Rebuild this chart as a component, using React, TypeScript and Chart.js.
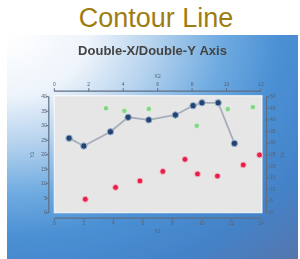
import React, { useEffect, useRef } from "react";
import { Chart, registerables } from "chart.js";

Chart.register(...registerables);

const pageTitle = "Contour Line";
const chartTitle = "Double-X/Double-Y Axis";

const bottomTicks = [0, 2, 4, 6, 8, 10, 12, 14];
const topTicks = [0, 2, 4, 6, 8, 10, 12];
const leftTicks = [0, 5, 10, 15, 20, 25, 30, 35, 40];
const rightTicks = [0, 5, 10, 15, 20, 25, 30, 35, 40, 45, 50];

const blueX = [1.0, 2.0, 3.8, 5.0, 6.4, 8.2, 9.4, 10.0, 11.1, 12.2];
const blueY = [25.7, 23.0, 27.9, 32.9, 32.0, 33.7, 36.9, 37.9, 37.9, 23.9];

const greenX = [1.0, 3.5, 4.75, 6.4, 8.2, 9.65, 11.75, 13.45];
const greenY = [25.7, 36.0, 35.1, 35.8, 33.3, 30.0, 35.7, 36.4];

const redX = [2.1, 4.15, 5.8, 7.35, 8.85, 9.7, 11.05, 12.8, 13.9];
const redY = [5.8, 10.9, 13.7, 17.8, 23.0, 16.7, 15.8, 20.6, 24.9];

const toPoints = (xs: number[], ys: number[]) => xs.map((x, i) => ({ x, y: ys[i] }));

const tickFont = { family: "'Liberation Sans', Arial, sans-serif", size: 5 };
const tickColor = "#566274";

export default function App() {
  const ref = useRef<HTMLCanvasElement>(null);

  useEffect(() => {
    const canvas = ref.current;
    if (!canvas) return;

    const bgPlugin = {
      id: "bgPanel",
      beforeDraw(chart: any) {
        const c = chart.ctx as CanvasRenderingContext2D;
        const { width, height, chartArea: a } = chart;
        c.save();
        c.scale(1.35, 1);
        const g = c.createRadialGradient(0, 0, 0, 0, 0, 320);
        g.addColorStop(0, "#ffffff");
        g.addColorStop(0.19, "#eef4fb");
        g.addColorStop(0.34, "#b5d2ee");
        g.addColorStop(0.5, "#6eaae0");
        g.addColorStop(0.63, "#4b90d4");
        g.addColorStop(0.8, "#4482c8");
        g.addColorStop(1, "#5874a8");
        c.fillStyle = g;
        c.fillRect(0, 0, width / 1.35 + 1, height);
        c.restore();

        c.save();
        c.fillStyle = "#e6e6e6";
        c.fillRect(a.left, a.top - 1, a.right - a.left + 1, a.bottom - a.top + 1);
        c.strokeStyle = "rgba(255,255,255,0.75)";
        c.lineWidth = 1.2;
        c.strokeRect(a.left, a.top - 1, a.right - a.left + 1, a.bottom - a.top + 1);

        const off = 5.5;
        c.strokeStyle = "#5e6e84";
        c.lineWidth = 1.2;
        c.beginPath();
        c.moveTo(a.left - off, a.top);
        c.lineTo(a.left - off, a.bottom);
        c.moveTo(a.right + off, a.top);
        c.lineTo(a.right + off, a.bottom);
        c.moveTo(a.left, a.top - off);
        c.lineTo(a.right, a.top - off);
        c.moveTo(a.left, a.bottom + off);
        c.lineTo(a.right, a.bottom + off);
        c.stroke();

        c.lineWidth = 1;
        c.beginPath();
        const sx = chart.scales.x, sx2 = chart.scales.x2, sy = chart.scales.y, sy2 = chart.scales.y2;
        sx.ticks.forEach((t: any) => {
          const p = sx.getPixelForValue(t.value);
          c.moveTo(p, a.bottom + off);
          c.lineTo(p, a.bottom + off + 3);
        });
        sx2.ticks.forEach((t: any) => {
          const p = sx2.getPixelForValue(t.value);
          c.moveTo(p, a.top - off);
          c.lineTo(p, a.top - off - 3);
        });
        sy.ticks.forEach((t: any) => {
          const p = sy.getPixelForValue(t.value);
          c.moveTo(a.left - off, p);
          c.lineTo(a.left - off - 3, p);
        });
        sy2.ticks.forEach((t: any) => {
          const p = sy2.getPixelForValue(t.value);
          c.moveTo(a.right + off, p);
          c.lineTo(a.right + off + 3, p);
        });
        c.stroke();
        c.restore();
      },
    };

    const axisCommon = (padding: number) => ({
      type: "linear" as const,
      grid: { display: false, drawTicks: false },
      border: { display: false },
      ticks: { padding, font: tickFont, color: tickColor, maxRotation: 0, autoSkip: false },
    });

    const chart = new Chart(canvas, {
      type: "scatter",
      data: {
        datasets: [
          {
            label: "Blue",
            data: toPoints(blueX, blueY),
            showLine: true,
            borderColor: "#a6aebb",
            borderWidth: 1.8,
            pointBackgroundColor: "#24436f",
            pointBorderColor: "#9ab6d3",
            pointBorderWidth: 1,
            pointRadius: 3.2,
            xAxisID: "x",
            yAxisID: "y",
            clip: false,
          } as any,
          {
            label: "Green",
            data: toPoints(greenX, greenY),
            showLine: false,
            pointBackgroundColor: "#88d588",
            pointBorderColor: "rgba(225,245,225,0.9)",
            pointBorderWidth: 1,
            pointRadius: 2.8,
            xAxisID: "x",
            yAxisID: "y",
            clip: false,
          },
          {
            label: "Red",
            data: toPoints(redX, redY),
            showLine: false,
            pointBackgroundColor: "#e2204c",
            pointBorderColor: "rgba(250,185,200,0.9)",
            pointBorderWidth: 1,
            pointRadius: 2.9,
            xAxisID: "x",
            yAxisID: "y2",
            clip: false,
          },
        ],
      },
      options: {
        animation: false,
        responsive: false,
        layout: { padding: 0 },
        plugins: {
          legend: { display: false },
          tooltip: { enabled: false },
          title: {
            display: true,
            text: chartTitle,
            color: "#444444",
            font: { family: "'Liberation Sans', Arial, sans-serif", size: 13, weight: "bold", lineHeight: 1.2 },
            padding: { top: 8.2, bottom: 0 },
          },
        },
        scales: {
          x: {
            ...axisCommon(8.3),
            position: "bottom",
            min: 0,
            max: 14,
            afterBuildTicks: (s: any) => {
              s.ticks = bottomTicks.map((v) => ({ value: v }));
            },
            afterFit: (s: any) => {
              s.height = 46.3;
            },
            title: { display: true, text: "X1", font: tickFont, color: tickColor, padding: { top: 0, bottom: 24.3 } },
          },
          x2: {
            ...axisCommon(8.7),
            position: "top",
            min: 0,
            max: 12,
            afterBuildTicks: (s: any) => {
              s.ticks = topTicks.map((v) => ({ value: v }));
            },
            afterFit: (s: any) => {
              s.height = 37.9;
            },
            title: { display: true, text: "X2", font: tickFont, color: tickColor, padding: { top: 14.9, bottom: 0 } },
          },
          y: {
            ...axisCommon(7.6),
            position: "left",
            min: 0,
            max: 40,
            afterBuildTicks: (s: any) => {
              s.ticks = leftTicks.map((v) => ({ value: v }));
            },
            afterFit: (s: any) => {
              s.width = 47.3;
            },
            title: { display: true, text: "Y1", font: tickFont, color: tickColor, padding: { top: 23, bottom: 0 } },
          },
          y2: {
            ...axisCommon(9),
            position: "right",
            min: 0,
            max: 50,
            afterBuildTicks: (s: any) => {
              s.ticks = rightTicks.map((v) => ({ value: v }));
            },
            afterFit: (s: any) => {
              s.width = 37;
            },
            title: { display: true, text: "Y2", font: tickFont, color: tickColor, padding: { top: 13.3, bottom: 0 } },
          },
        } as any,
      },
      plugins: [bgPlugin],
    });

    return () => chart.destroy();
  }, []);

  return (
    <div style={{ position: "fixed", left: 0, top: 0, width: 300, height: 259, background: "#ffffff", overflow: "hidden" }}>
      <div
        style={{
          position: "absolute",
          left: 6,
          top: 5,
          width: 300,
          textAlign: "center",
          fontFamily: "'Liberation Sans', Arial, sans-serif",
          fontSize: 27,
          lineHeight: "27px",
          color: "#a07c10",
          whiteSpace: "nowrap",
        }}
      >
        {pageTitle}
      </div>
      <canvas ref={ref} width={291} height={224} style={{ position: "absolute", left: 7, top: 35, width: 291, height: 224 }} />
    </div>
  );
}
